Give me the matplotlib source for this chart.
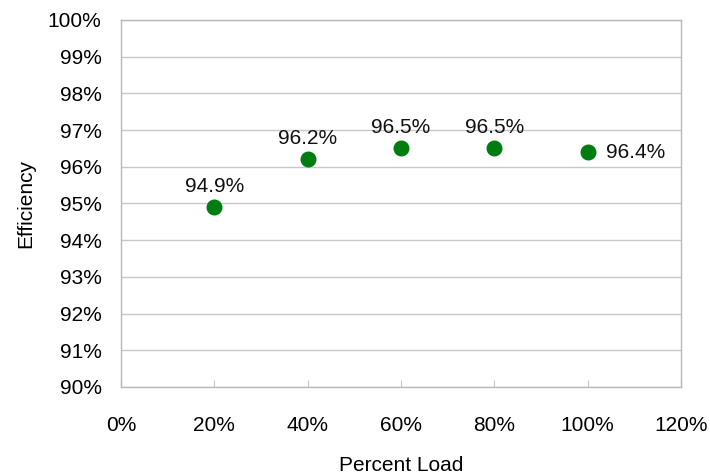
import matplotlib.pyplot as plt
from matplotlib.ticker import FuncFormatter, MultipleLocator

# Efficiency vs load data
loads = [20, 40, 60, 80, 100]
efficiency = [94.9, 96.2, 96.5, 96.5, 96.4]
labels = ['94.9%', '96.2%', '96.5%', '96.5%', '96.4%']

plt.rcParams['font.family'] = ['Liberation Sans', 'DejaVu Sans']

fig = plt.figure(figsize=(7.1, 4.76), dpi=100)
ax = fig.add_axes([121 / 710, 1 - 387 / 476, (681 - 121) / 710, (387 - 20) / 476])

ax.plot(loads, efficiency, 'o', color='#007D10', markersize=10.5, zorder=3)

# point labels: above, except last one to the right
for i, (x, y, t) in enumerate(zip(loads, efficiency, labels)):
    if i == len(loads) - 1:
        ax.annotate(t, (x, y), xytext=(13, 0), textcoords='offset points',
                    ha='left', va='center', fontsize=15, color='#111111')
    else:
        ax.annotate(t, (x, y), xytext=(0, 8), textcoords='offset points',
                    ha='center', va='bottom', fontsize=15, color='#111111')

ax.set_xlim(0, 120)
ax.set_ylim(90, 100)
ax.xaxis.set_major_locator(MultipleLocator(20))
ax.yaxis.set_major_locator(MultipleLocator(1))
ax.xaxis.set_major_formatter(FuncFormatter(lambda v, p: '%d%%' % v))
ax.yaxis.set_major_formatter(FuncFormatter(lambda v, p: '%d%%' % v))

ax.grid(axis='y', color='#C8C8C8', linewidth=1)
ax.set_axisbelow(True)
for s in ax.spines.values():
    s.set_color('#B8B8B8')
    s.set_linewidth(1)

ax.tick_params(axis='x', direction='in', length=5, color='#C8C8C8', labelsize=15, pad=21)
ax.tick_params(axis='y', length=0, labelsize=15, pad=14)

ax.set_xlabel('Percent Load', fontsize=15, labelpad=15)
ax.set_ylabel('Efficiency', fontsize=15, labelpad=9)

fig.savefig('out.png', dpi=100)
